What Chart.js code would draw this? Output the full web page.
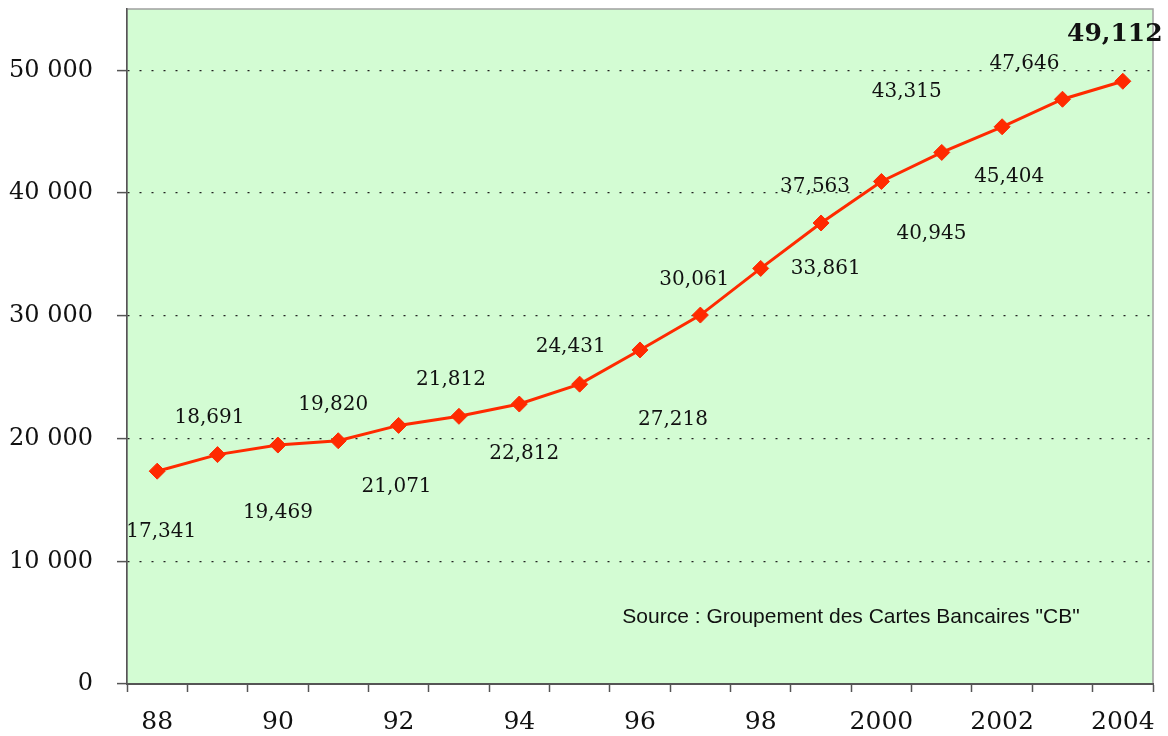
<!DOCTYPE html>
<html>
<head>
<meta charset="utf-8">
<script src="https://cdn.jsdelivr.net/npm/chart.js@4/dist/chart.umd.min.js"></script>
<style>
  html, body { margin: 0; padding: 0; background: #ffffff; }
  #wrap { width: 1168px; height: 736px; }
</style>
</head>
<body>
<div id="wrap"><canvas id="c" width="1168" height="736"></canvas></div>
<script>
const years = ['88','89','90','91','92','93','94','95','96','97','98','99','2000','2001','2002','2003','2004'];
const cards = [17341, 18691, 19469, 19820, 21071, 21812, 22812, 24431, 27218, 30061, 33861, 37563, 40945, 43315, 45404, 47646, 49112];
const valueLabels = ['17,341','18,691','19,469','19,820','21,071','21,812','22,812','24,431','27,218','30,061','33,861','37,563','40,945','43,315','45,404','47,646','49,112'];
const yTicks = [0, 10000, 20000, 30000, 40000, 50000];
const sourceText = 'Source : Groupement des Cartes Bancaires "CB"';

// label placement (pixel offsets from each point), styling only
const labelOffsets = [[4,61],[-8,-37],[0,68],[-5,-36],[-2,61],[-8,-37],[5,50],[-9,-37],[33,70],[-6,-35],[65,0],[-6,-36],[50,52],[-35,-61],[7,50],[-38,-35],[-8,-47]];

const SERIF = '"DejaVu Serif", "Liberation Serif", serif';

const areaPlugin = {
  id: 'area',
  beforeDraw(chart) {
    const {ctx, chartArea: a} = chart;
    ctx.save();
    ctx.fillStyle = '#d3fcd3';
    ctx.fillRect(a.left, a.top, a.right - a.left, a.bottom - a.top);
    ctx.strokeStyle = '#a0a0a0';
    ctx.lineWidth = 1.5;
    ctx.strokeRect(a.left, a.top, a.right - a.left, a.bottom - a.top);
    ctx.restore();
  },
  afterDatasetsDraw(chart) {
    const {ctx, chartArea: a} = chart;
    const meta = chart.getDatasetMeta(0);
    ctx.save();
    ctx.fillStyle = '#111';
    ctx.textAlign = 'center';
    ctx.textBaseline = 'middle';
    meta.data.forEach((pt, i) => {
      const last = i === meta.data.length - 1;
      ctx.font = last ? 'bold 25px ' + SERIF : '20px ' + SERIF;
      const off = labelOffsets[i];
      ctx.fillText(valueLabels[i], pt.x + off[0], pt.y + off[1]);
    });
    ctx.font = '21px "Liberation Sans", Arial, sans-serif';
    ctx.fillStyle = '#111';
    ctx.fillText(sourceText, a.left + 724, a.top + 608);
    ctx.restore();
  }
};

new Chart(document.getElementById('c'), {
  type: 'line',
  data: {
    labels: years,
    datasets: [{
      data: cards,
      borderColor: '#ff2a00',
      borderWidth: 3,
      backgroundColor: '#ff2a00',
      pointStyle: 'rectRot',
      pointRadius: 8,
      pointBorderWidth: 1,
      pointBorderColor: '#ff2a00',
      pointBackgroundColor: '#ff2a00',
      tension: 0,
      fill: false
    }]
  },
  options: {
    responsive: false,
    animation: false,
    devicePixelRatio: 1,
    layout: { padding: { top: 7, right: 15, left: 0, bottom: 0 } },
    plugins: { legend: { display: false }, tooltip: { enabled: false } },
    scales: {
      x: {
        type: 'category',
        offset: true,
        grid: {
          offset: true,
          drawOnChartArea: false,
          drawTicks: true,
          tickLength: 8,
          tickColor: '#555',
          tickWidth: 1.5
        },
        border: { display: true, color: '#555', width: 2 },
        ticks: {
          autoSkip: false,
          maxRotation: 0,
          padding: 15,
          color: '#111',
          font: { family: SERIF, size: 25 },
          callback: function(v, i) { return i % 2 === 0 ? years[i] : ''; }
        },
        afterFit: s => { s.height = 52; s.paddingLeft = 0; s.paddingRight = 0; }
      },
      y: {
        min: 0,
        max: 55000,
        afterBuildTicks: s => { s.ticks = yTicks.map(v => ({ value: v })); },
        grid: {
          color: '#222',
          lineWidth: 1.2,
          drawTicks: true,
          tickLength: 10,
          tickColor: '#555',
          tickWidth: 1.5,
          tickBorderDash: []
        },
        border: { display: true, color: '#555', width: 1.5, dash: [2, 10] },
        ticks: {
          padding: 24,
          color: '#111',
          font: { family: SERIF, size: 24 },
          callback: v => v === 0 ? '0' : String(v).replace(/(\d)(?=(\d{3})+$)/g, '$1 ')
        },
        afterFit: s => { s.width = 127; s.paddingTop = 0; s.paddingBottom = 0; }
      }
    }
  },
  plugins: [areaPlugin]
});
</script>
</body>
</html>
